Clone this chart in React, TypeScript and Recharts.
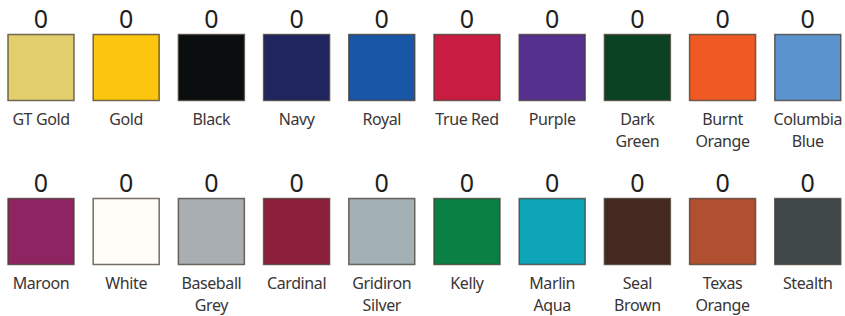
import React from 'react';
import { ScatterChart, Scatter, XAxis, YAxis } from 'recharts';

const colorNames = [
  'GT Gold', 'Gold', 'Black', 'Navy', 'Royal', 'True Red', 'Purple', 'Dark Green', 'Burnt Orange', 'Columbia Blue',
  'Maroon', 'White', 'Baseball Grey', 'Cardinal', 'Gridiron Silver', 'Kelly', 'Marlin Aqua', 'Seal Brown', 'Texas Orange', 'Stealth'
];
const swatchFills = [
  '#e2cf6c', '#fdc60e', '#0a0e0e', '#1e255f', '#1a56a8', '#c81c40', '#55308f', '#0b4224', '#ef5a24', '#5b93cf',
  '#8f2462', '#fffdf8', '#a9aeb3', '#8c1f3a', '#a3b0b4', '#0b8043', '#0fa5b8', '#45281f', '#b14f31', '#3e4849'
];
const counts = [0, 0, 0, 0, 0, 0, 0, 0, 0, 0, 0, 0, 0, 0, 0, 0, 0, 0, 0, 0];
const columns = [0, 1, 2, 3, 4, 5, 6, 7, 8, 9, 0, 1, 2, 3, 4, 5, 6, 7, 8, 9];
const rows = [0, 0, 0, 0, 0, 0, 0, 0, 0, 0, 1, 1, 1, 1, 1, 1, 1, 1, 1, 1];
// short two-word names stay on one line
const singleLineNames = ['GT Gold', 'True Red'];

const data = colorNames.map((name, i) => ({
  name,
  fill: swatchFills[i],
  count: counts[i],
  col: columns[i],
  row: rows[i]
}));

const Swatch = (props: any) => {
  const { cx, cy, payload } = props;
  const size = 66;
  const lines: string[] = singleLineNames.includes(payload.name) ? [payload.name] : payload.name.split(' ');
  return (
    <g>
      <text x={cx} y={cy - 40} textAnchor="middle" fontSize={25} fill="#231f20" fontFamily="Noto Sans">
        {payload.count}
      </text>
      <rect
        x={cx - size / 2}
        y={cy - size / 2}
        width={size}
        height={size}
        fill={payload.fill}
        stroke="rgba(70,60,50,0.75)"
        strokeWidth={1.5}
      />
      {lines.map((line, j) => (
        <text
          key={j}
          x={cx}
          y={cy + 57 + j * 22}
          textAnchor="middle"
          fontSize={16}
          fill="#3a3536"
          fontFamily="Noto Sans"
          letterSpacing={-0.4}
        >
          {line}
        </text>
      ))}
    </g>
  );
};

export default function App() {
  return (
    <div style={{ position: 'absolute', left: 0, top: 0, width: 845, height: 316, background: '#fff' }}>
      <ScatterChart width={845} height={316} margin={{ top: 0, right: 0, bottom: 0, left: 0 }}>
        <XAxis type="number" dataKey="col" domain={[-0.481, 9.437]} hide />
        <YAxis type="number" dataKey="row" domain={[-0.4116, 1.5152]} reversed hide />
        <Scatter data={data} shape={<Swatch />} isAnimationActive={false} />
      </ScatterChart>
    </div>
  );
}
